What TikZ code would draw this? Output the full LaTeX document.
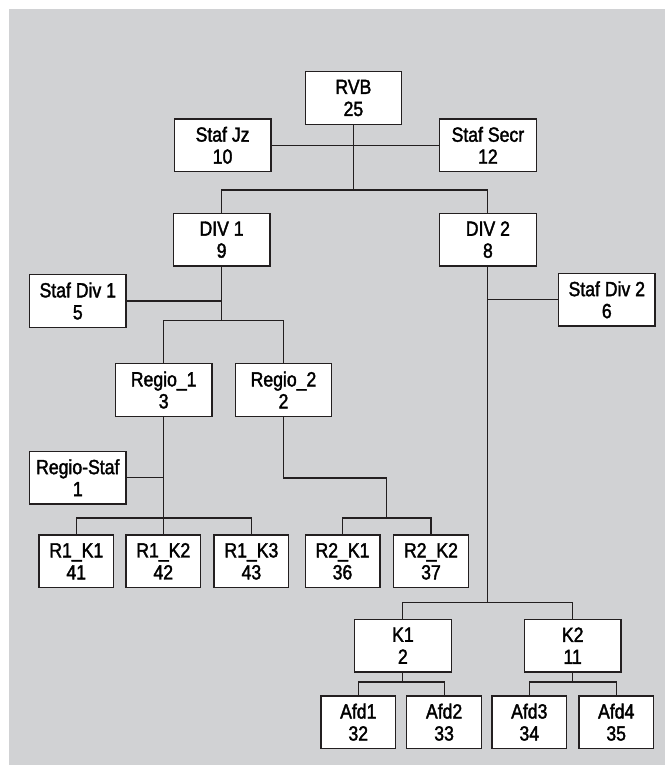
\documentclass[tikz,border=0pt]{standalone}
\usepackage{fontspec}
\setmainfont{Liberation Sans}[FakeStretch=0.86,FakeBold=1.8]
\usetikzlibrary{calc}
\begin{document}
\begin{tikzpicture}[x=1pt,y=-1pt,
  box/.style={draw=linec,fill=white,line width=1.3pt,minimum width=96.5pt,minimum height=52.5pt,
     inner sep=0pt,align=center,font=\fontsize{20.5}{22}\selectfont},
  sbox/.style={box,minimum width=74.7pt},
  conn/.style={draw=linec,line width=1.1pt}]
\definecolor{linec}{HTML}{231F20}
\definecolor{bgg}{HTML}{D1D2D4}
\useasboundingbox (0,0) rectangle (665,766);
\fill[white] (0,0) rectangle (665,766);
\fill[bgg] (9,9) rectangle (665,765);
% levels
\coordinate (y1) at (0,190);
\coordinate (y2) at (0,320.7);
\coordinate (y3) at (0,518);
\coordinate (y4) at (0,478);
\coordinate (y5) at (0,602.3);
\coordinate (y6) at (0,682);
% nodes
\node[box] (rvb) at (353.4,98) {RVB\\25};
\node[box] (jz) at (222.6,145.3) {Staf Jz\\10};
\node[box] (secr) at (487.9,145.3) {Staf Secr\\12};
\node[box] (div1) at (221.6,239.7) {DIV 1\\9};
\node[box] (div2) at (487.9,239.7) {DIV 2\\8};
\node[box] (sd1) at (77.8,301) {Staf Div 1\\5};
\node[box] (sd2) at (606.8,299.8) {Staf Div 2\\6};
\node[box] (r1) at (163.7,390) {Regio\_1\\3};
\node[box] (r2) at (283.5,390) {Regio\_2\\2};
\node[box] (rs) at (77.8,477.7) {Regio-Staf\\1};
\node[sbox] (r1k1) at (76.3,561.3) {R1\_K1\\41};
\node[sbox] (r1k2) at (163.3,561.3) {R1\_K2\\42};
\node[sbox] (r1k3) at (251.4,561.3) {R1\_K3\\43};
\node[sbox] (r2k1) at (342.5,561.3) {R2\_K1\\36};
\node[sbox] (r2k2) at (431,561.3) {R2\_K2\\37};
\node[box] (k1) at (402.9,645.7) {K1\\2};
\node[box] (k2) at (572.7,645.7) {K2\\11};
\node[sbox] (a1) at (358.3,722.2) {Afd1\\32};
\node[sbox] (a2) at (444.1,722.2) {Afd2\\33};
\node[sbox] (a3) at (529.3,722.2) {Afd3\\34};
\node[sbox] (a4) at (616.2,722.2) {Afd4\\35};
% connectors
\path[conn] (jz.east) -- (secr.west);
\path[conn] (rvb.south) -- (rvb.south |- y1);
\path[conn] (div1.north) -- (div1.north |- y1) -- (div2.north |- y1) -- (div2.north);
\path[conn] (div1.south) -- (div1.south |- y2);
\path[conn] (sd1.east) -- (sd1.east -| div1.south);
\path[conn] (r1.north) -- (r1.north |- y2) -- (r2.north |- y2) -- (r2.north);
\path[conn] (r1.south) -- (r1.south |- y3);
\path[conn] (rs.east) -- (rs.east -| r1.south);
\path[conn] (r1k1.north) -- (r1k1.north |- y3) -- (r1k3.north |- y3) -- (r1k3.north);
\path[conn] (r1k2.north) -- (r1k2.north |- y3);
\coordinate (r2m) at ($(r2k1.north)!0.5!(r2k2.north)$);
\path[conn] (r2.south) -- (r2.south |- y4) -- (r2m |- y4) -- (r2m |- y3);
\path[conn] (r2k1.north) -- (r2k1.north |- y3) -- (r2k2.north |- y3) -- (r2k2.north);
\path[conn] (div2.south) -- (div2.south |- y5);
\path[conn] (sd2.west) -- (sd2.west -| div2.south);
\path[conn] (k1.north) -- (k1.north |- y5) -- (k2.north |- y5) -- (k2.north);
\path[conn] (k1.south) -- (k1.south |- y6);
\path[conn] (a1.north) -- (a1.north |- y6) -- (a2.north |- y6) -- (a2.north);
\path[conn] (k2.south) -- (k2.south |- y6);
\path[conn] (a3.north) -- (a3.north |- y6) -- (a4.north |- y6) -- (a4.north);
\end{tikzpicture}
\end{document}
